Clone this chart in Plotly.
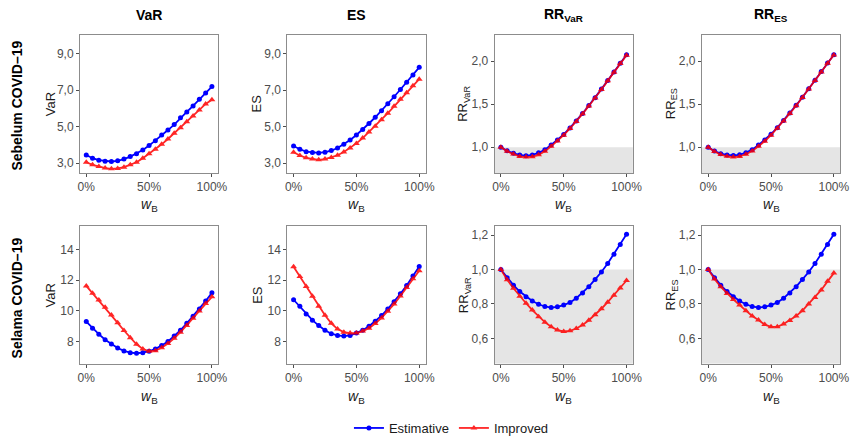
import plotly.graph_objects as go

# ---------------- data ----------------
w = [0.00, 0.05, 0.10, 0.15, 0.20, 0.25, 0.30, 0.35, 0.40, 0.45, 0.50,
     0.55, 0.60, 0.65, 0.70, 0.75, 0.80, 0.85, 0.90, 0.95, 1.00]

col_titles = ["VaR", "ES", "RR<sub>VaR</sub>", "RR<sub>ES</sub>"]
row_titles = ["Sebelum COVID\u201319", "Selama COVID\u201319"]
series_names = ["Estimative", "Improved"]
x_title = "<i>w</i><sub>B</sub>"
y_titles = ["VaR", "ES", "RR<sub>VaR</sub>", "RR<sub>ES</sub>"]

# Sebelum COVID-19
pre_var_est = [3.45, 3.27, 3.16, 3.11, 3.09, 3.13, 3.22, 3.36, 3.52, 3.72, 3.96,
               4.23, 4.54, 4.81, 5.11, 5.48, 5.80, 6.13, 6.49, 6.83, 7.19]
pre_var_imp = [3.05, 2.91, 2.82, 2.73, 2.69, 2.71, 2.78, 2.91, 3.05, 3.27, 3.51,
               3.76, 4.03, 4.32, 4.63, 4.93, 5.26, 5.58, 5.91, 6.24, 6.47]
pre_es_est = [3.94, 3.76, 3.63, 3.58, 3.56, 3.60, 3.69, 3.83, 4.03, 4.27, 4.54,
              4.84, 5.17, 5.51, 5.87, 6.25, 6.63, 7.03, 7.43, 7.82, 8.24]
pre_es_imp = [3.60, 3.42, 3.29, 3.22, 3.18, 3.22, 3.31, 3.43, 3.61, 3.83, 4.08,
              4.37, 4.70, 5.02, 5.37, 5.73, 6.11, 6.49, 6.85, 7.23, 7.59]
pre_rrvar_est = [1.000, 0.958, 0.930, 0.910, 0.900, 0.910, 0.935, 0.970, 1.027, 1.084, 1.149,
                 1.225, 1.305, 1.393, 1.485, 1.576, 1.676, 1.775, 1.874, 1.977, 2.076]
pre_rrvar_imp = [1.000, 0.952, 0.920, 0.893, 0.885, 0.890, 0.912, 0.952, 1.010, 1.072, 1.140,
                 1.218, 1.300, 1.388, 1.480, 1.572, 1.672, 1.772, 1.872, 1.975, 2.070]
pre_rres_est = [1.000, 0.955, 0.925, 0.910, 0.905, 0.912, 0.937, 0.972, 1.025, 1.083, 1.152,
                1.228, 1.312, 1.398, 1.488, 1.582, 1.680, 1.780, 1.880, 1.980, 2.075]
pre_rres_imp = [1.000, 0.950, 0.915, 0.895, 0.885, 0.893, 0.918, 0.955, 1.012, 1.070, 1.140,
                1.220, 1.305, 1.392, 1.483, 1.578, 1.676, 1.776, 1.876, 1.976, 2.072]

# Selama COVID-19
dur_var_est = [9.31, 8.88, 8.49, 8.13, 7.85, 7.59, 7.40, 7.29, 7.25, 7.29, 7.38,
               7.53, 7.76, 8.02, 8.37, 8.75, 9.20, 9.66, 10.13, 10.65, 11.18]
dur_var_imp = [11.63, 11.16, 10.71, 10.24, 9.74, 9.23, 8.73, 8.26, 7.83, 7.53, 7.38,
               7.42, 7.61, 7.89, 8.22, 8.62, 9.05, 9.53, 10.00, 10.48, 10.92]
dur_es_est = [10.73, 10.30, 9.81, 9.40, 9.05, 8.75, 8.52, 8.41, 8.37, 8.41, 8.56,
              8.75, 9.01, 9.33, 9.70, 10.13, 10.60, 11.12, 11.66, 12.28, 12.90]
dur_es_imp = [12.88, 12.24, 11.59, 10.95, 10.30, 9.72, 9.20, 8.82, 8.62, 8.56, 8.56,
              8.69, 8.88, 9.18, 9.55, 9.98, 10.45, 10.97, 11.53, 12.09, 12.62]
dur_rrvar_est = [1.000, 0.952, 0.909, 0.872, 0.842, 0.817, 0.798, 0.785, 0.779, 0.783, 0.793,
                 0.808, 0.833, 0.864, 0.900, 0.942, 0.985, 1.035, 1.089, 1.145, 1.204]
dur_rrvar_imp = [1.000, 0.940, 0.891, 0.845, 0.804, 0.764, 0.726, 0.694, 0.667, 0.648, 0.640,
                 0.644, 0.657, 0.678, 0.705, 0.737, 0.772, 0.810, 0.850, 0.892, 0.936]
dur_rres_est = [1.000, 0.952, 0.909, 0.872, 0.842, 0.817, 0.798, 0.785, 0.779, 0.783, 0.793,
                0.808, 0.833, 0.864, 0.900, 0.942, 0.985, 1.035, 1.089, 1.145, 1.204]
dur_rres_imp = [1.000, 0.945, 0.899, 0.861, 0.826, 0.793, 0.761, 0.730, 0.706, 0.680, 0.667,
                0.667, 0.683, 0.704, 0.730, 0.761, 0.799, 0.837, 0.881, 0.931, 0.979]

panels = [
    [(pre_var_est, pre_var_imp), (pre_es_est, pre_es_imp),
     (pre_rrvar_est, pre_rrvar_imp), (pre_rres_est, pre_rres_imp)],
    [(dur_var_est, dur_var_imp), (dur_es_est, dur_es_imp),
     (dur_rrvar_est, dur_rrvar_imp), (dur_rres_est, dur_rres_imp)],
]

y_ranges = [[[2.46, 10.03], [2.46, 10.03], [0.70, 2.31], [0.70, 2.31]],
            [[6.56, 15.5], [6.56, 15.5], [0.452, 1.25], [0.452, 1.25]]]
y_ticks = [[[3, 5, 7, 9], [3, 5, 7, 9], [1.0, 1.5, 2.0], [1.0, 1.5, 2.0]],
           [[8, 10, 12, 14], [8, 10, 12, 14], [0.6, 0.8, 1.0, 1.2], [0.6, 0.8, 1.0, 1.2]]]
y_formats = [[".1f", ".1f", ".1f", ".1f"], ["d", "d", ".1f", ".1f"]]
x_ticks = [0, 0.5, 1]

# ---------------- layout geometry ----------------
W, H = 859, 443
col_px = [(79, 219), (289, 429), (499, 639), (709, 849)]
row_px = [(35, 175), (229, 368)]
ytitle_x = [49, 258, 468, 678]
xtitle_y = [207, 402]

colors = ["#0000FF", "#FF0000"]
symbols = ["circle", "triangle-up"]
msizes = [5, 6]

fig = go.Figure()
layout_axes = {}
shapes = []
annotations = []

FONT = "Liberation Sans, Arial, sans-serif"
tickfont = dict(family=FONT, size=12, color="#4D4D4D")
ytitlefont = dict(family=FONT, size=13, color="#1A1A1A")
xtitlefont = dict(family=FONT, size=14, color="#1A1A1A")

for r in range(2):
    for c in range(4):
        i = r * 4 + c + 1
        xa, ya = f"x{i}", f"y{i}"
        est, imp = panels[r][c]
        for k, (vals, name) in enumerate([(est, series_names[0]), (imp, series_names[1])]):
            fig.add_trace(go.Scatter(
                x=w, y=vals, mode="lines+markers", name=name,
                legendgroup=name, showlegend=(i == 1),
                line=dict(color=colors[k], width=1.8),
                marker=dict(color=colors[k], symbol=symbols[k], size=msizes[k]),
                opacity=0.85 if k == 1 else 1.0,
                xaxis=xa, yaxis=ya))
        x0, x1 = col_px[c]
        y0, y1 = row_px[r]
        common = dict(showline=True, linecolor="#8C8C8C", linewidth=1, mirror=True,
                      ticks="outside", ticklen=3, tickcolor="#4D4D4D", tickwidth=1,
                      showgrid=False, zeroline=False, tickfont=tickfont)
        layout_axes[f"xaxis{i}"] = dict(
            domain=[x0 / W, x1 / W], anchor=ya, range=[-0.05, 1.05],
            tickvals=x_ticks, tickformat=".0%", **common)
        layout_axes[f"yaxis{i}"] = dict(
            domain=[1 - y1 / H, 1 - y0 / H], anchor=xa, range=y_ranges[r][c],
            tickvals=y_ticks[r][c], tickformat=y_formats[r][c], **common)
        if c >= 2:
            shapes.append(dict(type="rect", xref=f"{xa} domain", yref=ya,
                               x0=0, x1=1, y0=y_ranges[r][c][0], y1=1.0,
                               fillcolor="#E5E5E5", line=dict(width=0), layer="below"))
        # axis titles
        annotations.append(dict(text=y_titles[c], x=ytitle_x[c] / W, y=1 - (y0 + y1) / 2 / H,
                                xref="paper", yref="paper", showarrow=False, textangle=-90,
                                font=ytitlefont, xanchor="center", yanchor="middle"))
        annotations.append(dict(text=x_title, x=(x0 + x1) / 2 / W, y=1 - xtitle_y[r] / H,
                                xref="paper", yref="paper", showarrow=False,
                                font=xtitlefont, xanchor="center", yanchor="middle"))

for c in range(4):
    x0, x1 = col_px[c]
    annotations.append(dict(text=f"<b>{col_titles[c]}</b>", x=(x0 + x1) / 2 / W, y=1 - 15 / H,
                            xref="paper", yref="paper", showarrow=False,
                            font=dict(family=FONT, size=14, color="#000000"),
                            xanchor="center", yanchor="middle"))
row_centers = [107, 301]
for r in range(2):
    annotations.append(dict(text=f"<b>{row_titles[r]}</b>", x=15 / W, y=1 - row_centers[r] / H,
                            xref="paper", yref="paper", showarrow=False, textangle=-90,
                            font=dict(family=FONT, size=14, color="#000000"),
                            xanchor="center", yanchor="middle"))

fig.update_layout(
    width=W, height=H,
    margin=dict(l=0, r=0, t=0, b=0),
    plot_bgcolor="white", paper_bgcolor="white",
    separators=",.",
    font=dict(family=FONT),
    showlegend=True,
    legend=dict(orientation="h", x=0.53, xanchor="center", y=1 - 433 / H, yanchor="middle",
                font=dict(family=FONT, size=13, color="#1A1A1A"),
                itemwidth=30, bgcolor="rgba(0,0,0,0)"),
    shapes=shapes, annotations=annotations,
    **layout_axes)

fig.write_html("out.html")
